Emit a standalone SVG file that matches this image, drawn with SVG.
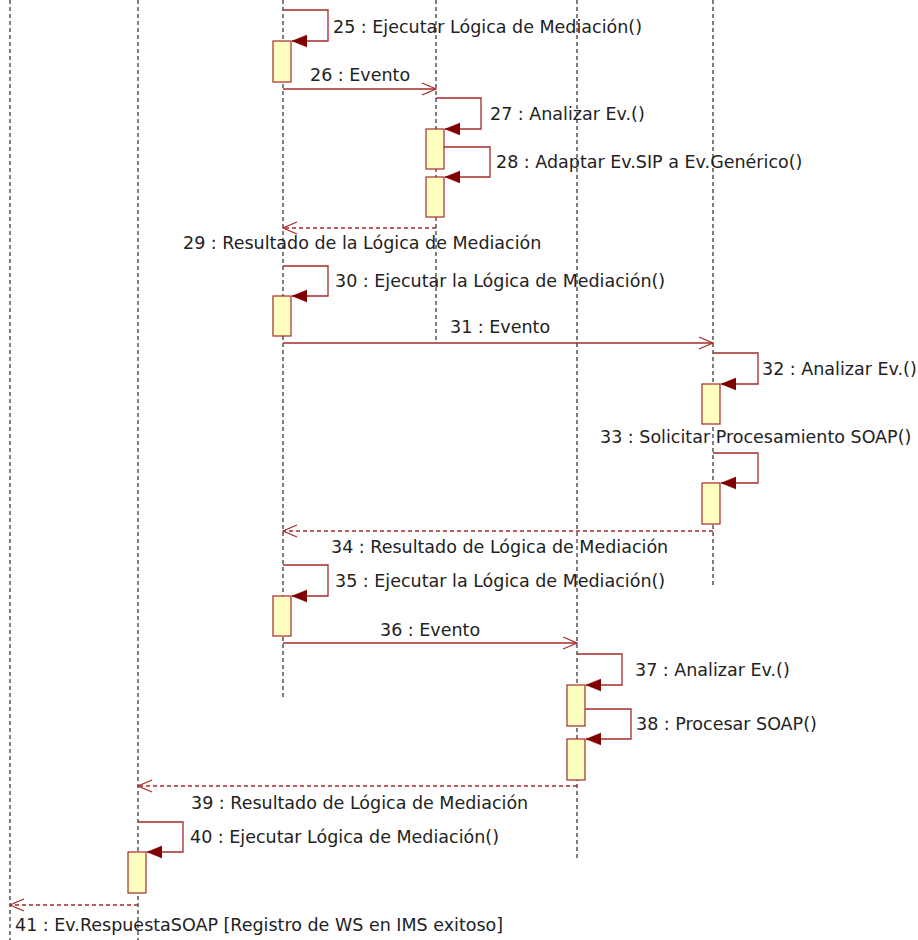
<svg xmlns="http://www.w3.org/2000/svg" width="918" height="940" viewBox="0 0 918 940">
  <style>
    .life { stroke: #000; stroke-width: 1; stroke-dasharray: 4 3; fill: none; }
    .act { fill: #FFFFC0; stroke: #A52A2A; stroke-width: 1.2; }
    .self { stroke: #A52A2A; stroke-width: 1.3; fill: none; marker-end: url(#filled); }
    .send { stroke: #A52A2A; stroke-width: 1.3; fill: none; marker-end: url(#open); }
    .ret { stroke: #A52A2A; stroke-width: 1.3; fill: none; stroke-dasharray: 4 3; marker-end: url(#open); }
    .lbl { font-family: "DejaVu Sans", Verdana, sans-serif; font-size: 17.5px; fill: #222; }
  </style>
  <defs>
    <!-- solid head for synchronous self calls -->
    <marker id="filled" markerUnits="userSpaceOnUse" markerWidth="16" markerHeight="14" viewBox="0 0 16 14" refX="15" refY="7" orient="auto">
      <path d="M15,7 L0,1 L0,13 Z" fill="#800000" stroke="#800000" stroke-width="0.5"/>
    </marker>
    <!-- open head for sends and returns -->
    <marker id="open" markerUnits="userSpaceOnUse" markerWidth="16" markerHeight="16" viewBox="0 0 16 16" refX="15" refY="8" orient="auto">
      <path d="M1,2 L15,8 L1,14" fill="none" stroke="#A52A2A" stroke-width="1.2"/>
    </marker>
  </defs>

  <rect width="918" height="940" fill="#fff"/>

  <!-- lifelines with their activation bars -->
  <g id="lifeline-a">
    <line class="life" x1="10" y1="0" x2="10" y2="940"/>
  </g>
  <g id="lifeline-b">
    <line class="life" x1="138" y1="0" x2="138" y2="940"/>
    <rect class="act" x="128" y="852" width="18" height="41"/>
  </g>
  <g id="lifeline-c">
    <line class="life" x1="283" y1="0" x2="283" y2="700"/>
    <rect class="act" x="273" y="41" width="18" height="41"/>
    <rect class="act" x="273" y="296" width="18" height="40"/>
    <rect class="act" x="273" y="596" width="18" height="40"/>
  </g>
  <g id="lifeline-d">
    <line class="life" x1="436" y1="0" x2="436" y2="340"/>
    <rect class="act" x="426" y="129" width="18" height="40"/>
    <rect class="act" x="426" y="177" width="18" height="40"/>
  </g>
  <g id="lifeline-e">
    <line class="life" x1="577" y1="0" x2="577" y2="860"/>
    <rect class="act" x="567" y="685" width="18" height="41"/>
    <rect class="act" x="567" y="739" width="18" height="41"/>
  </g>
  <g id="lifeline-f">
    <line class="life" x1="713" y1="0" x2="713" y2="585"/>
    <rect class="act" x="702" y="384" width="18" height="40"/>
    <rect class="act" x="702" y="483" width="18" height="41"/>
  </g>

  <!-- messages -->
  <g id="connectors">
    <path class="self" d="M283,10 H328 V41 H292"/>
    <path class="send" d="M283,89 H436"/>
    <path class="self" d="M436,98 H481 V129 H445"/>
    <path class="self" d="M444,147 H490 V177 H445"/>
    <path class="ret" d="M436,228 H283"/>
    <path class="self" d="M283,266 H328 V296 H292"/>
    <path class="send" d="M283,343 H713"/>
    <path class="self" d="M713,353 H758 V384 H721"/>
    <path class="self" d="M713,453 H758 V483 H721"/>
    <path class="ret" d="M713,531 H283"/>
    <path class="self" d="M283,565 H328 V596 H292"/>
    <path class="send" d="M283,643 H577"/>
    <path class="self" d="M577,654 H622 V685 H586"/>
    <path class="self" d="M585,709 H631 V739 H586"/>
    <path class="ret" d="M577,786 H138"/>
    <path class="self" d="M138,822 H183 V852 H147"/>
    <path class="ret" d="M138,905 H10"/>
  </g>

  <!-- message labels -->
  <g id="labels">
    <text class="lbl" x="333" y="33">25 : Ejecutar Lógica de Mediación()</text>
    <text class="lbl" x="310" y="81">26 : Evento</text>
    <text class="lbl" x="490" y="120">27 : Analizar Ev.()</text>
    <text class="lbl" x="496" y="168">28 : Adaptar Ev.SIP a Ev.Genérico()</text>
    <text class="lbl" x="183" y="249">29 : Resultado de la Lógica de Mediación</text>
    <text class="lbl" x="335" y="287">30 : Ejecutar la Lógica de Mediación()</text>
    <text class="lbl" x="450" y="333">31 : Evento</text>
    <text class="lbl" x="762" y="375">32 : Analizar Ev.()</text>
    <text class="lbl" x="600" y="443">33 : Solicitar Procesamiento SOAP()</text>
    <text class="lbl" x="331" y="553">34 : Resultado de Lógica de Mediación</text>
    <text class="lbl" x="335" y="587">35 : Ejecutar la Lógica de Mediación()</text>
    <text class="lbl" x="380" y="636">36 : Evento</text>
    <text class="lbl" x="635" y="676">37 : Analizar Ev.()</text>
    <text class="lbl" x="636" y="730">38 : Procesar SOAP()</text>
    <text class="lbl" x="191" y="809">39 : Resultado de Lógica de Mediación</text>
    <text class="lbl" x="190" y="843">40 : Ejecutar Lógica de Mediación()</text>
    <text class="lbl" x="15" y="931">41 : Ev.RespuestaSOAP [Registro de WS en IMS exitoso]</text>
  </g>
</svg>
